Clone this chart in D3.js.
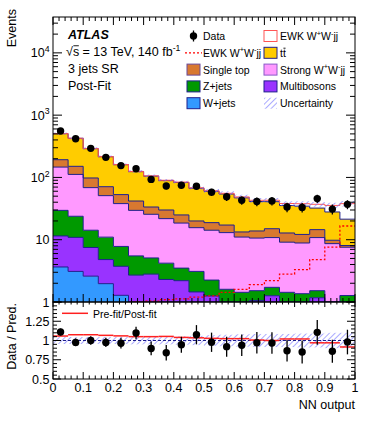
<!DOCTYPE html>
<html>
<head>
<meta charset="utf-8">
<script src="https://cdn.jsdelivr.net/npm/d3@7"></script>
<style>
  body { margin: 0; background: #fff; }
  text { font-family: "Liberation Sans", Arial, Helvetica, sans-serif; fill: #000; }
</style>
</head>
<body>
<div id="chart"></div>
<script>
// bins of the NN output
const binEdges = [0, 0.05, 0.1, 0.15, 0.2, 0.25, 0.3, 0.35, 0.4, 0.45, 0.5,
                  0.55, 0.6, 0.65, 0.7, 0.75, 0.8, 0.85, 0.9, 0.95, 1];
const xTickLabels = ["0", "0.1", "0.2", "0.3", "0.4", "0.5", "0.6", "0.7", "0.8", "0.9", "1"];

// post-fit backgrounds / signal per bin (events)
const wjets       = [3.65, 3.1, 2.6, 1.97, 1.28, 0.6, 0.5, 0.4, 0.35, 0.3, 0.25, 0.2, 0.2, 0.15, 0.15, 0.1, 0.1, 0.1, 0.08, 0.08];
const multibosons = [7.85, 7.8, 4.9, 2.83, 2.46, 2.1, 2.3, 1.9, 1.85, 1.15, 1.0, 0.7, 0.65, 0.91, 1.11, 0.8, 0.75, 1.07, 0.62, 0.72];
const zjets       = [18.1, 12.9, 6.7, 6.2, 4.06, 2.8, 2.3, 1.9, 1.3, 1.65, 1.0, 0.7, 0.58, 0.46, 0.46, 0.53, 0.51, 0.35, 0.15, 0.47];
const strongWW    = [117, 88, 54.4, 40, 30.2, 24.1, 20.5, 17.6, 15, 12.5, 11.95, 11.4, 9.6, 9.1, 9.1, 7.7, 7.5, 9.3, 7.8, 6.3];
const singleTop   = [46, 39, 29.4, 20, 15, 12.2, 7.9, 8.2, 6.5, 4.4, 4.6, 4.2, 2.3, 3.2, 4.2, 3.7, 3.3, 3.7, 1.15, 0.5];
const ttbar       = [312, 274, 192, 144, 107, 82, 71.5, 59, 58, 47, 41, 37, 33.7, 27.2, 25.8, 22.5, 22.4, 17.7, 18.1, 13.3];
const ewkWW       = [0.5, 0.6, 0.7, 0.8, 0.9, 1.0, 1.03, 1.09, 1.12, 1.2, 1.25, 1.43, 1.6, 1.9, 2.2, 2.8, 3.3, 4.8, 7.6, 16.6];

const dataVals = [556, 419, 293, 210, 155, 138, 93, 73, 75, 72, 58, 49, 43, 41, 42, 33.5, 33, 45.7, 31, 37];
const dataErr  = [23.6, 20.5, 17.1, 14.5, 12.4, 11.7, 9.6, 8.5, 8.7, 8.5, 7.6, 7, 6.6, 6.4, 6.5, 5.8, 5.7, 6.8, 5.6, 6.1];

// ratio panel
const ratioVals = [1.11, 0.975, 1.0, 0.975, 0.965, 1.097, 0.897, 0.84, 0.945, 1.075, 0.977, 0.92, 0.938, 0.97, 0.968, 0.867, 0.85, 1.106, 0.86, 0.98];
const ratioErr  = [0.045, 0.05, 0.055, 0.06, 0.07, 0.08, 0.09, 0.1, 0.105, 0.125, 0.125, 0.13, 0.14, 0.14, 0.14, 0.14, 0.15, 0.16, 0.15, 0.16];
const preFitRatio = [1.058, 1.075, 1.075, 1.067, 1.06, 1.05, 1.05, 1.053, 1.04, 1.035, 1.028, 1.024, 1.024, 1.006, 1.0, 1.02, 1.02, 0.97, 0.97, 0.916];
const relUncert = [0.045, 0.045, 0.045, 0.045, 0.045, 0.05, 0.05, 0.05, 0.055, 0.06, 0.07, 0.075, 0.08, 0.085, 0.085, 0.085, 0.09, 0.09, 0.1, 0.1];

const stackKeys = ["wjets", "multibosons", "zjets", "strongWW", "singleTop", "ttbar", "ewkWW"];
const fills = {
  wjets: "#3399ff", multibosons: "#9933ff", zjets: "#009900", strongWW: "#ff99ff",
  singleTop: "#d87830", ttbar: "#ffcc00", ewkWW: "#ffffff"
};
const edgeColor = "#1e1e8c";

const width = 374, height = 421;
const svg = d3.select("#chart").append("svg").attr("width", width).attr("height", height);

const x = d3.scaleLinear().domain([0, 1]).range([53, 355]);
const y = d3.scaleLog().domain([1, 37650]).range([302, 17]);
const yc = y.copy().clamp(true);
const yr = d3.scaleLinear().domain([0.5, 1.5]).range([379, 302]);

const defs = svg.append("defs");
defs.append("clipPath").attr("id", "mainClip").append("rect")
  .attr("x", 53).attr("y", 17).attr("width", 302).attr("height", 285);
defs.append("clipPath").attr("id", "ratioClip").append("rect")
  .attr("x", 53).attr("y", 302).attr("width", 302).attr("height", 77);
const hatch = defs.append("pattern").attr("id", "hatch")
  .attr("patternUnits", "userSpaceOnUse").attr("width", 4).attr("height", 4)
  .attr("patternTransform", "rotate(45)");
hatch.append("line").attr("x1", 0).attr("y1", 0).attr("x2", 0).attr("y2", 4)
  .attr("stroke", "#7070ff").attr("stroke-width", 1.2);

function steps(vals) {
  const pts = [];
  vals.forEach((v, i) => { pts.push([binEdges[i], v]); pts.push([binEdges[i + 1], v]); });
  return pts;
}

// ---------- main panel ----------
const rows = binEdges.slice(0, -1).map((_, i) => ({
  wjets: wjets[i], multibosons: multibosons[i], zjets: zjets[i], strongWW: strongWW[i],
  singleTop: singleTop[i], ttbar: ttbar[i], ewkWW: ewkWW[i]
}));
const stacked = d3.stack().keys(stackKeys)(rows);

const main = svg.append("g").attr("clip-path", "url(#mainClip)");
const area = d3.area()
  .x(d => x(d.x))
  .y0(d => yc(Math.max(d.lo, 1e-3)))
  .y1(d => yc(Math.max(d.hi, 1e-3)));

stacked.forEach(layer => {
  const pts = [];
  layer.forEach((d, i) => {
    pts.push({ x: binEdges[i], lo: d[0], hi: d[1] });
    pts.push({ x: binEdges[i + 1], lo: d[0], hi: d[1] });
  });
  main.append("path").datum(pts).attr("d", area).attr("fill", fills[layer.key]);
});
stacked.forEach(layer => {
  main.append("path")
    .datum(steps(layer.map(d => d[1])))
    .attr("d", d3.line().x(d => x(d[0])).y(d => yc(Math.max(d[1], 1e-3))))
    .attr("fill", "none")
    .attr("stroke", layer.key === "ewkWW" ? "#ff5555" : edgeColor)
    .attr("stroke-width", 1);
});

// uncertainty band on the total
const total = stacked[stacked.length - 1].map(d => d[1]);
const bandPts = [];
total.forEach((t, i) => {
  bandPts.push({ x: binEdges[i], lo: t * (1 - relUncert[i]), hi: t * (1 + relUncert[i]) });
  bandPts.push({ x: binEdges[i + 1], lo: t * (1 - relUncert[i]), hi: t * (1 + relUncert[i]) });
});
main.append("path").datum(bandPts).attr("d", area).attr("fill", "url(#hatch)");

// EWK alone, dashed
main.append("path")
  .datum(steps(ewkWW))
  .attr("d", d3.line().x(d => x(d[0])).y(d => y(d[1])))
  .attr("fill", "none").attr("stroke", "#ff0000").attr("stroke-width", 1.3)
  .attr("stroke-dasharray", "2,2");

// data
const centers = binEdges.slice(0, -1).map((e, i) => (e + binEdges[i + 1]) / 2);
main.selectAll(".derr").data(dataVals).enter().append("line")
  .attr("x1", (d, i) => x(centers[i])).attr("x2", (d, i) => x(centers[i]))
  .attr("y1", (d, i) => y(d - dataErr[i])).attr("y2", (d, i) => y(d + dataErr[i]))
  .attr("stroke", "#000").attr("stroke-width", 1.3);
main.selectAll(".dpt").data(dataVals).enter().append("circle")
  .attr("cx", (d, i) => x(centers[i])).attr("cy", d => y(d)).attr("r", 3.7).attr("fill", "#000");

// ---------- ratio panel ----------
const rp = svg.append("g").attr("clip-path", "url(#ratioClip)");
rp.selectAll(".band").data(relUncert).enter().append("rect")
  .attr("x", (d, i) => x(binEdges[i])).attr("width", (d, i) => x(binEdges[i + 1]) - x(binEdges[i]))
  .attr("y", d => yr(1 + d)).attr("height", d => yr(1 - d) - yr(1 + d))
  .attr("fill", "url(#hatch)");
rp.append("line").attr("x1", x(0)).attr("x2", x(1)).attr("y1", yr(1)).attr("y2", yr(1))
  .attr("stroke", edgeColor).attr("stroke-width", 1).attr("stroke-dasharray", "3,2");
rp.selectAll(".pre").data(preFitRatio).enter().append("line")
  .attr("x1", (d, i) => x(binEdges[i])).attr("x2", (d, i) => x(binEdges[i + 1]))
  .attr("y1", d => yr(d)).attr("y2", d => yr(d))
  .attr("stroke", "#ff2020").attr("stroke-width", 1.5);
rp.selectAll(".rerr").data(ratioVals).enter().append("line")
  .attr("x1", (d, i) => x(centers[i])).attr("x2", (d, i) => x(centers[i]))
  .attr("y1", (d, i) => yr(d - ratioErr[i])).attr("y2", (d, i) => yr(d + ratioErr[i]))
  .attr("stroke", "#000").attr("stroke-width", 1.3);
rp.selectAll(".rpt").data(ratioVals).enter().append("circle")
  .attr("cx", (d, i) => x(centers[i])).attr("cy", d => yr(d)).attr("r", 3.7).attr("fill", "#000");

// ---------- frames and ticks ----------
const axes = svg.append("g").attr("stroke", "#000").attr("stroke-width", 1);
axes.append("rect").attr("x", 53).attr("y", 17).attr("width", 302).attr("height", 285).attr("fill", "none");
axes.append("rect").attr("x", 53).attr("y", 302).attr("width", 302).attr("height", 77).attr("fill", "none");

function tick(x1, y1, x2, y2) {
  axes.append("line").attr("x1", x1).attr("y1", y1).attr("x2", x2).attr("y2", y2);
}
// log y ticks
for (let p = 0; p <= 4; p++) {
  for (let k = 1; k <= 9; k++) {
    const v = k * Math.pow(10, p);
    if (v > 37650) continue;
    const len = k === 1 ? 9 : 5;
    tick(53, y(v), 53 + len, y(v));
    tick(355, y(v), 355 - len, y(v));
  }
}
// x ticks, both panels
for (let j = 0; j <= 50; j++) {
  const v = j / 50, major = j % 5 === 0;
  tick(x(v), 302, x(v), 302 - (major ? 8 : 4));
  tick(x(v), 17, x(v), 17 + (major ? 8 : 4));
  tick(x(v), 379, x(v), 379 - (major ? 7 : 3.5));
  tick(x(v), 302, x(v), 302 + (major ? 5 : 2.5));
}
// ratio y ticks
for (let j = 0; j <= 20; j++) {
  const v = 0.5 + j * 0.05, major = j % 5 === 0;
  tick(53, yr(v), 53 + (major ? 8 : 4), yr(v));
  tick(355, yr(v), 355 - (major ? 8 : 4), yr(v));
}

// ---------- text helpers ----------
function rich(g, px, py, parts, size, anchor) {
  const t = g.append("text").attr("x", px).attr("y", py).attr("font-size", size);
  if (anchor) t.attr("text-anchor", anchor);
  let cur = 0, idx = 0;
  const bars = [];
  parts.forEach(p => {
    const s = typeof p === "string" ? p : p[0];
    const kind = typeof p === "string" ? null : p[1];
    const ts = t.append("tspan").text(s);
    if (kind === "sup") {
      const off = -0.42 * size;
      ts.attr("dy", off - cur).attr("font-size", size * 0.7);
      cur = off;
    } else {
      if (cur !== 0) ts.attr("dy", -cur);
      cur = 0;
      if (kind === "bar") bars.push(idx);
    }
    idx += s.length;
  });
  const node = t.node();
  bars.forEach(b => {
    const s0 = node.getStartPositionOfChar(b).x;
    const e0 = node.getEndPositionOfChar(b).x;
    g.append("line").attr("x1", s0 + 0.5).attr("x2", e0 - 0.3)
      .attr("y1", py - size * 0.82).attr("y2", py - size * 0.82)
      .attr("stroke", "#000").attr("stroke-width", 0.9);
  });
  return t;
}

const txt = svg.append("g");

// y tick labels
const yLabels = [
  { v: 1, parts: ["1"] }, { v: 10, parts: ["10"] },
  { v: 100, parts: ["10", ["2", "sup"]] }, { v: 1000, parts: ["10", ["3", "sup"]] },
  { v: 10000, parts: ["10", ["4", "sup"]] }
];
yLabels.forEach(l => rich(txt, 49.5, y(l.v) + 4.5, l.parts, 12.5, "end"));
[0.5, 0.75, 1, 1.25].forEach(v => {
  txt.append("text").attr("x", 49.5).attr("y", yr(v) + 4.5).attr("text-anchor", "end")
    .attr("font-size", 12.5).text(String(v));
});
xTickLabels.forEach((s, i) => {
  txt.append("text").attr("x", x(i / 10)).attr("y", 392).attr("text-anchor", "middle")
    .attr("font-size", 12.5).text(s);
});

txt.append("text").attr("transform", "translate(16,9) rotate(-90)")
  .attr("text-anchor", "end").attr("font-size", 12.5).text("Events");
txt.append("text").attr("transform", "translate(16,303) rotate(-90)")
  .attr("text-anchor", "end").attr("font-size", 12.5).text("Data / Pred.");
txt.append("text").attr("x", 355).attr("y", 409).attr("text-anchor", "end")
  .attr("font-size", 12.5).text("NN output");

// ATLAS label block
txt.append("text").attr("x", 68).attr("y", 38.5).attr("font-size", 12.5)
  .attr("font-weight", "bold").attr("font-style", "italic").text("ATLAS");
rich(txt, 66, 56, ["\u221A", ["s", "bar"], " = 13 TeV, 140 fb", ["-1", "sup"]], 12.5);
txt.append("text").attr("x", 68).attr("y", 73).attr("font-size", 12.5).text("3 jets SR");
txt.append("text").attr("x", 68).attr("y", 89.5).attr("font-size", 12.5).text("Post-Fit");

// ---------- legend ----------
const leg = svg.append("g");
const rowY = [36, 52.8, 69.6, 86.4, 103.2];
const lsize = 10.5;
const col1 = 187, col2 = 264;

function legBox(cx, cy, fill, stroke) {
  leg.append("rect").attr("x", cx).attr("y", cy - 5.5).attr("width", 13).attr("height", 11)
    .attr("fill", fill).attr("stroke", stroke).attr("stroke-width", 1);
}
// column 1
leg.append("line").attr("x1", col1 + 6.5).attr("x2", col1 + 6.5).attr("y1", rowY[0] - 5.5).attr("y2", rowY[0] + 5.5)
  .attr("stroke", "#000").attr("stroke-width", 1.3);
leg.append("circle").attr("cx", col1 + 6.5).attr("cy", rowY[0]).attr("r", 3.7).attr("fill", "#000");
rich(leg, col1 + 16, rowY[0] + 4, ["Data"], lsize);

leg.append("line").attr("x1", col1 - 2).attr("x2", col1 + 15).attr("y1", rowY[1]).attr("y2", rowY[1])
  .attr("stroke", "#ff0000").attr("stroke-width", 1.3).attr("stroke-dasharray", "2,2");
rich(leg, col1 + 16, rowY[1] + 4, ["EWK W", ["+", "sup"], "W", ["-", "sup"], "jj"], lsize);

legBox(col1, rowY[2], fills.singleTop, "#6a4a9a");
rich(leg, col1 + 16, rowY[2] + 4, ["Single top"], lsize);
legBox(col1, rowY[3], fills.zjets, edgeColor);
rich(leg, col1 + 16, rowY[3] + 4, ["Z+jets"], lsize);
legBox(col1, rowY[4], fills.wjets, edgeColor);
rich(leg, col1 + 16, rowY[4] + 4, ["W+jets"], lsize);

// column 2
legBox(col2, rowY[0], "#fff", "#ff5555");
rich(leg, col2 + 16, rowY[0] + 4, ["EWK W", ["+", "sup"], "W", ["-", "sup"], "jj"], lsize);
legBox(col2, rowY[1], fills.ttbar, edgeColor);
rich(leg, col2 + 16, rowY[1] + 4, ["t", ["t", "bar"]], lsize);
legBox(col2, rowY[2], fills.strongWW, "#8a5ac8");
rich(leg, col2 + 16, rowY[2] + 4, ["Strong W", ["+", "sup"], "W", ["-", "sup"], "jj"], lsize);
legBox(col2, rowY[3], fills.multibosons, edgeColor);
rich(leg, col2 + 16, rowY[3] + 4, ["Multibosons"], lsize);
leg.append("rect").attr("x", col2).attr("y", rowY[4] - 5.5).attr("width", 13).attr("height", 11)
  .attr("fill", "url(#hatch)");
rich(leg, col2 + 16, rowY[4] + 4, ["Uncertainty"], lsize);

// ratio legend
leg.append("line").attr("x1", 62).attr("x2", 88).attr("y1", 313.3).attr("y2", 313.3)
  .attr("stroke", "#ff2020").attr("stroke-width", 1.5);
rich(leg, 93, 317.5, ["Pre-fit/Post-fit"], lsize);
</script>
</body>
</html>
